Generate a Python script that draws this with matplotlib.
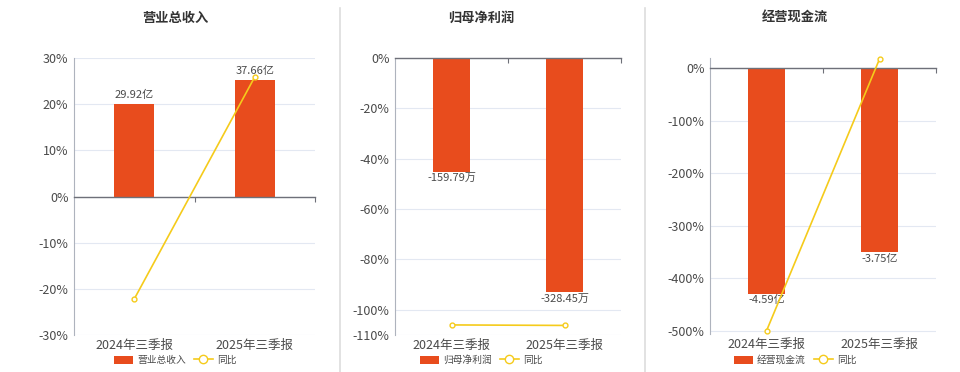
import matplotlib
matplotlib.use("Agg")
import matplotlib.pyplot as plt
from matplotlib.patches import Patch
from matplotlib.lines import Line2D
from matplotlib.ticker import FuncFormatter

plt.rcParams['font.family'] = ['Noto Sans CJK SC', 'DejaVu Sans']

categories = ["2024年三季报", "2025年三季报"]

titles = ["营业总收入", "归母净利润", "经营现金流"]

revenue = [29.92, 37.66]          # 亿
revenue_labels = ["29.92亿", "37.66亿"]
revenue_yoy = [-22.2, 25.9]       # %

profit = [-159.79, -328.45]       # 万
profit_labels = ["-159.79万", "-328.45万"]
profit_yoy = [-106.0, -106.2]     # %

cash = [-4.59, -3.75]             # 亿
cash_labels = ["-4.59亿", "-3.75亿"]
cash_yoy = [-500.0, 18.0]         # %

BAR = '#E84C1D'
LINE = '#F5CB1B'
GRID = '#E3E8F2'
AXC = '#6E7079'
TXT = '#4a4a4a'

fig = plt.figure(figsize=(9.6, 3.72), dpi=100)
W, H = 960, 372

def fx(px):
    return px / W

def fy(py):
    return 1 - py / H

panels = [
    dict(l=74, r=315, t=58, b=335, ylim=(-30, 30), ticks=[-30, -20, -10, 0, 10, 20, 30],
         bars=revenue, labels=revenue_labels, yoy=revenue_yoy, scale=1.49, cx=175, above=True),
    dict(l=395, r=621, t=58, b=335, ylim=(-110, 0), ticks=[-110, -100, -80, -60, -40, -20, 0],
         bars=profit, labels=profit_labels, yoy=profit_yoy, scale=3.53, cx=481, above=False),
    dict(l=710, r=936, t=58, b=334, ylim=(-506, 20), ticks=[-500, -400, -300, -200, -100, 0],
         bars=cash, labels=cash_labels, yoy=cash_yoy, scale=0.0107, cx=795, above=False),
]

x = list(range(len(categories)))

for i, p in enumerate(panels):
    rect = [fx(p['l']), fy(p['b']), fx(p['r'] - p['l']), (p['b'] - p['t']) / H]
    lo, hi = p['ylim']

    ax = fig.add_axes(rect)
    ax.set_xlim(-0.5, 1.5)
    ax.set_ylim(lo, hi)
    ax.set_yticks(p['ticks'])
    ax.yaxis.set_major_formatter(FuncFormatter(lambda v, pos: f"{v:.0f}%"))
    ax.grid(axis='y', color=GRID, linewidth=0.8)
    ax.set_axisbelow(True)
    for s in ['top', 'right', 'bottom']:
        ax.spines[s].set_visible(False)
    ax.spines['left'].set_color('#AEB3BD')
    ax.spines['left'].set_linewidth(0.8)
    ax.tick_params(axis='y', length=0, labelsize=9, colors=TXT, pad=4)
    ax.set_xticks(x)
    ax.set_xticklabels(categories)
    ax.tick_params(axis='x', length=0, labelsize=9, colors=TXT, pad=3)

    # secondary scale for bar values
    ax2 = fig.add_axes(rect)
    ax2.set_ylim(lo * p['scale'], hi * p['scale'])
    ax2.set_xlim(-0.5, 1.5)
    ax2.axis('off')
    ax2.bar(x, p['bars'], width=0.33, color=BAR, zorder=2)
    for xi, v, lab in zip(x, p['bars'], p['labels']):
        if p['above']:
            ax2.annotate(lab, (xi, v), xytext=(0, 3), textcoords='offset points',
                         ha='center', va='bottom', fontsize=8, color=TXT)
        else:
            ax2.annotate(lab, (xi, v), xytext=(0, -1), textcoords='offset points',
                         ha='center', va='top', fontsize=8, color=TXT)

    # zero axis line with category boundary ticks
    ax0 = fig.add_axes(rect)
    ax0.patch.set_visible(False)
    ax0.set_xlim(-0.5, 1.5)
    ax0.set_ylim(lo, hi)
    for s in ['top', 'right', 'left']:
        ax0.spines[s].set_visible(False)
    ax0.spines['bottom'].set_position(('data', 0))
    ax0.spines['bottom'].set_color(AXC)
    ax0.spines['bottom'].set_linewidth(1.0)
    ax0.set_yticks([])
    ax0.set_xticks([0.5, 1.5])
    ax0.set_xticklabels(['', ''])
    ax0.tick_params(axis='x', direction='out', length=3.5, color=AXC, width=0.8)

    # yoy line on top
    ax3 = fig.add_axes(rect)
    ax3.set_ylim(lo, hi)
    ax3.set_xlim(-0.5, 1.5)
    ax3.axis('off')
    ax3.plot(x, p['yoy'], color=LINE, linewidth=1.2, marker='o', markersize=3.5,
             markerfacecolor='white', markeredgecolor=LINE, markeredgewidth=1.0,
             zorder=5, clip_on=False)

    fig.text(fx(p['cx']), fy(18), titles[i], ha='center', va='center',
             fontsize=9.5, fontweight='bold', color='#333333')

    handles = [Patch(facecolor=BAR, edgecolor='none'),
               Line2D([0], [0], color=LINE, linewidth=1.2, marker='o', markersize=6,
                      markerfacecolor='white', markeredgecolor=LINE)]
    fig.legend(handles, [titles[i], '同比'], loc='center',
               bbox_to_anchor=(fx(p['cx']), fy(360)), ncol=2, frameon=False,
               fontsize=7, labelcolor=TXT, handlelength=2.0, handleheight=0.9,
               handletextpad=0.4, columnspacing=0.8, borderpad=0)

# panel separators
for sx in [340, 645]:
    fig.add_artist(Line2D([fx(sx), fx(sx)], [fy(8), fy(372)], color='#DDDDDD',
                          linewidth=1.2, transform=fig.transFigure))

fig.savefig('out.png', dpi=100)
